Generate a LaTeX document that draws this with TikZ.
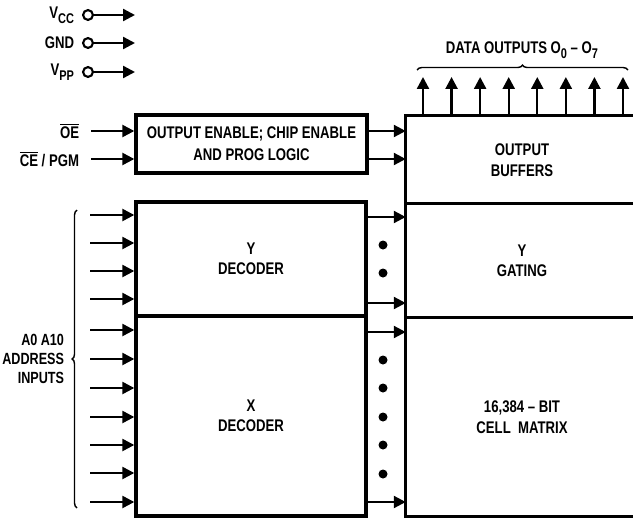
\documentclass[tikz,border=0pt]{standalone}
\usepackage{fontspec}
\setmainfont{Liberation Sans}[FakeStretch=0.78]
\usetikzlibrary{positioning,arrows.meta,decorations.pathreplacing}
\newcommand{\pxl}{0.025cm}
\newcommand{\lowsub}[1]{\raisebox{-0.6ex}{\fontsize{10}{10}\selectfont #1}}
\newcommand{\bartext}[1]{$\overline{\mbox{#1}}$}
\tikzset{
  blk/.style={line width=2.4pt},
  sig/.style={line width=1.7pt,-{Triangle[length=8.5pt,width=8.5pt]}},
  box/.style={draw,blk,inner sep=0pt,align=center},
  cell/.style={inner sep=0pt,align=center,minimum width={232*\pxl}},
  pinring/.style={circle,draw,line width=1.5pt,inner sep=0pt,minimum size=7pt},
  bracket/.style={line width=1pt,decorate,decoration={brace,amplitude=3.5pt}}
}
\begin{document}
\begin{tikzpicture}[x=0.025cm,y=-0.025cm,font=\bfseries\fontsize{12}{14.5}\selectfont]
  \useasboundingbox (0,0) rectangle (633,520);
  \clip (0,0) rectangle (633,520);
  % supply pins
  \foreach \n/\t/\y in {vcc/V\lowsub{CC}/15,gnd/GND/43,vpp/V\lowsub{PP}/72}{
    \node[pinring] (c\n) at (88,\y) {};
    \node[anchor=east] (\n) at (79,\y) {\t};
    \coordinate (e\n) at (135,\y);
    \draw[sig] (c\n) -- (e\n);
  }
  % blocks
  \node[box,minimum width={231*\pxl},minimum height={58*\pxl},font=\bfseries\fontsize{12}{15.5}\selectfont] (logic) at (251.5,144) {OUTPUT ENABLE; CHIP ENABLE\\AND PROG LOGIC};
  \node[box,minimum width={230*\pxl},minimum height={114*\pxl}] (ydec) at (251,259) {Y\\DECODER};
  \node[box,minimum width={230*\pxl},minimum height={200*\pxl}] (xdec) at (251,416) {X\\DECODER};
  \node[cell,minimum height={88*\pxl}] (buf) at (522,160) {OUTPUT\\BUFFERS};
  \node[cell,minimum height={114*\pxl}] (gat) at (522,261) {Y\\GATING};
  \node[cell,minimum height={198*\pxl}] (mat) at (522,417) {16,384 -- BIT\\CELL\ \ MATRIX};
  \draw[blk] (buf.north east) -- (buf.north west) -- (mat.south west) -- (mat.south east);
  \draw[blk] (gat.north west) -- (gat.north east);
  \draw[blk] (mat.north west) -- (mat.north east);
  % control inputs
  \node[anchor=east] (oe) at (84,131) {\bartext{OE}};
  \node[anchor=east] (ce) at (84,159) {\bartext{CE} / PGM};
  \foreach \s in {oe,ce}{
    \draw[sig,shorten <=5pt] (\s.east) -- (\s.east -| logic.west);
    \draw[sig] (logic.east |- \s.east) -- (buf.west |- \s.east);
  }
  % address inputs
  \foreach \i/\y in {1/215,2/243,3/271,4/299}{
    \coordinate (a\i) at (90,\y);
    \draw[sig] (a\i) -- (a\i -| ydec.west);
  }
  \foreach \i/\y in {5/330,6/359,7/388,8/417,9/445,10/473,11/502}{
    \coordinate (a\i) at (90,\y);
    \draw[sig] (a\i) -- (a\i -| xdec.west);
  }
  \coordinate (blo) at (77,508);
  \coordinate (bhi) at (77,210);
  \draw[bracket] (blo) -- (bhi);
  \node[anchor=east,align=right,font=\bfseries\fontsize{11.5}{13.5}\selectfont] (addr) at (69,359) {A0 A10\\ADDRESS\\INPUTS};
  % decoder outputs
  \foreach \n/\y in {o1/217,o2/303,o3/332,o4/502}{
    \coordinate (\n) at (366,\y);
    \draw[sig] (\n) -- (\n -| gat.west);
  }
  \foreach \y in {245,273,360,388,417,445,474}
    \fill (383,\y) circle (3.2pt);
  % data outputs
  \foreach \i in {0,...,7}{
    \pgfmathsetmacro{\dx}{423+28.57*\i}
    \coordinate (d\i) at (\dx,116);
    \coordinate (q\i) at (\dx,77);
    \draw[sig] (d\i) -- (q\i);
  }
  \coordinate (tl) at (417,70);
  \coordinate (tr) at (628,70);
  \draw[bracket] (tl) -- (tr);
  \node (data) at (522,50) {DATA OUTPUTS O\lowsub{0} -- O\lowsub{7}};
\end{tikzpicture}
\end{document}
